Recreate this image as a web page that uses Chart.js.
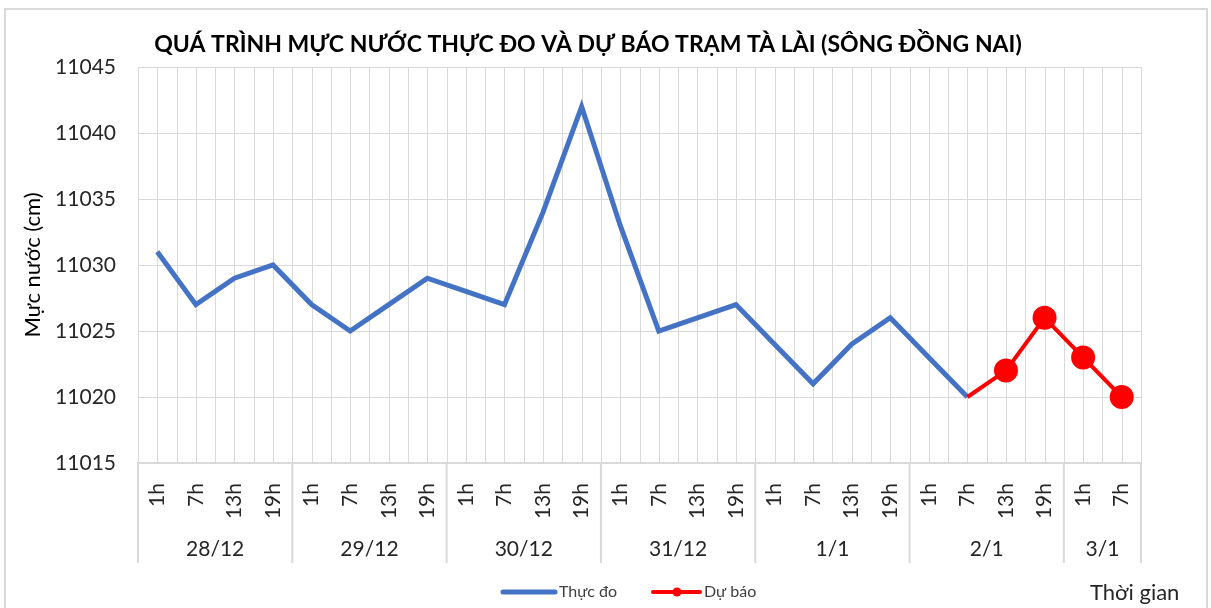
<!DOCTYPE html>
<html>
<head>
<meta charset="utf-8">
<script src="https://cdn.jsdelivr.net/npm/chart.js@4.4.1/dist/chart.umd.min.js"></script>
<style>
  html, body { margin: 0; padding: 0; background: #fff; }
  #wrap { position: relative; width: 1211px; height: 608px; }
</style>
</head>
<body>
<div id="wrap"><canvas id="chart"></canvas></div>
<script>
// Du lieu
const hours = ['1h', '7h', '13h', '19h', '1h', '7h', '13h', '19h', '1h', '7h', '13h', '19h',
  '1h', '7h', '13h', '19h', '1h', '7h', '13h', '19h', '1h', '7h', '13h', '19h', '1h', '7h'];
const days = ['28/12', '29/12', '30/12', '31/12', '1/1', '2/1', '3/1'];
const daySizes = [4, 4, 4, 4, 4, 4, 2];
const thucDo = [11031, 11027, 11029, 11030, 11027, 11025, 11027, 11029, 11028, 11027, 11034, 11042,
  11033, 11025, 11026, 11027, 11024, 11021, 11024, 11026, 11023, 11020];
const duBao = [null, null, null, null, null, null, null, null, null, null, null, null,
  null, null, null, null, null, null, null, null, null, 11020, 11022, 11026, 11023, 11020];
const yTicks = [11015, 11020, 11025, 11030, 11035, 11040, 11045];

const TITLE = 'QUÁ TRÌNH MỰC NƯỚC THỰC ĐO VÀ DỰ BÁO TRẠM TÀ LÀI (SÔNG ĐỒNG NAI)';
const FONT = 'Lato, "Open Sans", sans-serif';
const GRID = '#d9d9d9';

// Ve nen, tieu de, luoi doc, nhom ngay, chu thich
const extras = {
  id: 'extras',
  beforeDraw(chart) {
    const ctx = chart.ctx;
    ctx.save();
    ctx.fillStyle = '#fff';
    ctx.fillRect(0, 0, chart.width, chart.height);
    ctx.strokeStyle = GRID;
    ctx.lineWidth = 2;
    ctx.strokeRect(5, 9, chart.width - 9, chart.height + 10);
    ctx.fillStyle = '#000';
    ctx.font = 'bold 23px ' + FONT;
    ctx.textAlign = 'center';
    ctx.textBaseline = 'middle';
    ctx.fillText(TITLE, 588, 45);
    ctx.restore();
  },
  beforeDatasetsDraw(chart) {
    const { ctx, chartArea: a, scales: { x } } = chart;
    const half = (x.getPixelForValue(1) - x.getPixelForValue(0)) / 2;
    ctx.save();
    ctx.strokeStyle = GRID;
    ctx.lineWidth = 1;
    ctx.beginPath();
    for (let i = 0; i < hours.length; i++) {
      const px = Math.round(x.getPixelForValue(i)) + 0.5;
      ctx.moveTo(px, a.top); ctx.lineTo(px, a.bottom);
      const pb = Math.round(x.getPixelForValue(i) - half) + 0.5;
      ctx.moveTo(pb, a.top); ctx.lineTo(pb, a.bottom);
    }
    const pr = Math.round(a.right) + 0.5;
    ctx.moveTo(pr, a.top); ctx.lineTo(pr, a.bottom);
    ctx.stroke();
    ctx.restore();
  },
  afterDraw(chart) {
    const { ctx, chartArea: a, scales: { x } } = chart;
    const half = (x.getPixelForValue(1) - x.getPixelForValue(0)) / 2;
    ctx.save();
    // nhom ngay
    ctx.strokeStyle = GRID;
    ctx.lineWidth = 2;
    ctx.fillStyle = '#262626';
    ctx.font = '21px ' + FONT;
    ctx.textAlign = 'center';
    ctx.textBaseline = 'middle';
    let idx = 0;
    ctx.beginPath();
    days.forEach((d, k) => {
      const left = x.getPixelForValue(idx) - half;
      const right = x.getPixelForValue(idx + daySizes[k] - 1) + half;
      ctx.moveTo(left, a.bottom); ctx.lineTo(left, a.bottom + 100);
      if (k === days.length - 1) { ctx.moveTo(right, a.bottom); ctx.lineTo(right, a.bottom + 100); }
      ctx.fillText(d, (left + right) / 2, a.bottom + 86);
      idx += daySizes[k];
    });
    ctx.stroke();

    // chu thich
    const ly = 592;
    ctx.lineCap = 'round';
    ctx.lineWidth = 5;
    ctx.strokeStyle = '#4472C4';
    ctx.beginPath(); ctx.moveTo(503, ly); ctx.lineTo(555, ly); ctx.stroke();
    ctx.strokeStyle = '#FF0000';
    ctx.lineWidth = 4;
    ctx.beginPath(); ctx.moveTo(653, ly); ctx.lineTo(700, ly); ctx.stroke();
    ctx.fillStyle = '#FF0000';
    ctx.beginPath(); ctx.arc(677, ly, 4.5, 0, Math.PI * 2); ctx.fill();
    ctx.fillStyle = '#404040';
    ctx.font = '16px ' + FONT;
    ctx.textAlign = 'left';
    ctx.fillText('Thực đo', 559, ly);
    ctx.fillText('Dự báo', 704, ly);

    ctx.fillStyle = '#262626';
    ctx.font = '22px ' + FONT;
    ctx.fillText('Thời gian', 1090, 593);
    ctx.restore();
  }
};

const config = {
  type: 'line',
  data: {
    labels: hours,
    datasets: [
      {
        label: 'Thực đo',
        data: thucDo,
        borderColor: '#4472C4',
        backgroundColor: '#4472C4',
        borderWidth: 5,
        pointRadius: 0,
        tension: 0,
        order: 1
      },
      {
        label: 'Dự báo',
        data: duBao,
        borderColor: '#FF0000',
        backgroundColor: '#FF0000',
        borderWidth: 4,
        pointRadius: (c) => c.dataIndex === 21 ? 0 : 10,
        pointHoverRadius: 10,
        tension: 0,
        order: 0
      }
    ]
  },
  options: {
    responsive: true,
    maintainAspectRatio: false,
    animation: false,
    layout: { padding: { left: 0, right: 70, top: 67, bottom: 45 } },
    plugins: {
      legend: { display: false },
      tooltip: { enabled: false },
      title: { display: false }
    },
    scales: {
      x: {
        offset: true,
        grid: { display: false },
        border: { display: true, color: GRID, width: 2 },
        ticks: {
          color: '#262626',
          font: { family: FONT, size: 21 },
          minRotation: 90,
          maxRotation: 90,
          autoSkip: false,
          padding: 12
        },
        afterFit(scale) { scale.height = 100; }
      },
      y: {
        min: 11015,
        max: 11045,
        afterBuildTicks(scale) { scale.ticks = yTicks.map(v => ({ value: v })); },
        grid: { color: GRID, lineWidth: 1, drawTicks: false },
        border: { display: false },
        ticks: {
          color: '#262626',
          font: { family: FONT, size: 21 },
          padding: 22,
          callback: (v) => String(v)
        },
        title: {
          display: true,
          text: 'Mực nước (cm)',
          color: '#000',
          font: { family: FONT, size: 22 },
          padding: { top: 20, bottom: 0 }
        },
        afterFit(scale) { scale.width = 138; }
      }
    }
  },
  plugins: [extras]
};

const ctx = document.getElementById('chart').getContext('2d');
const myChart = new Chart(ctx, config);
</script>
</body>
</html>
